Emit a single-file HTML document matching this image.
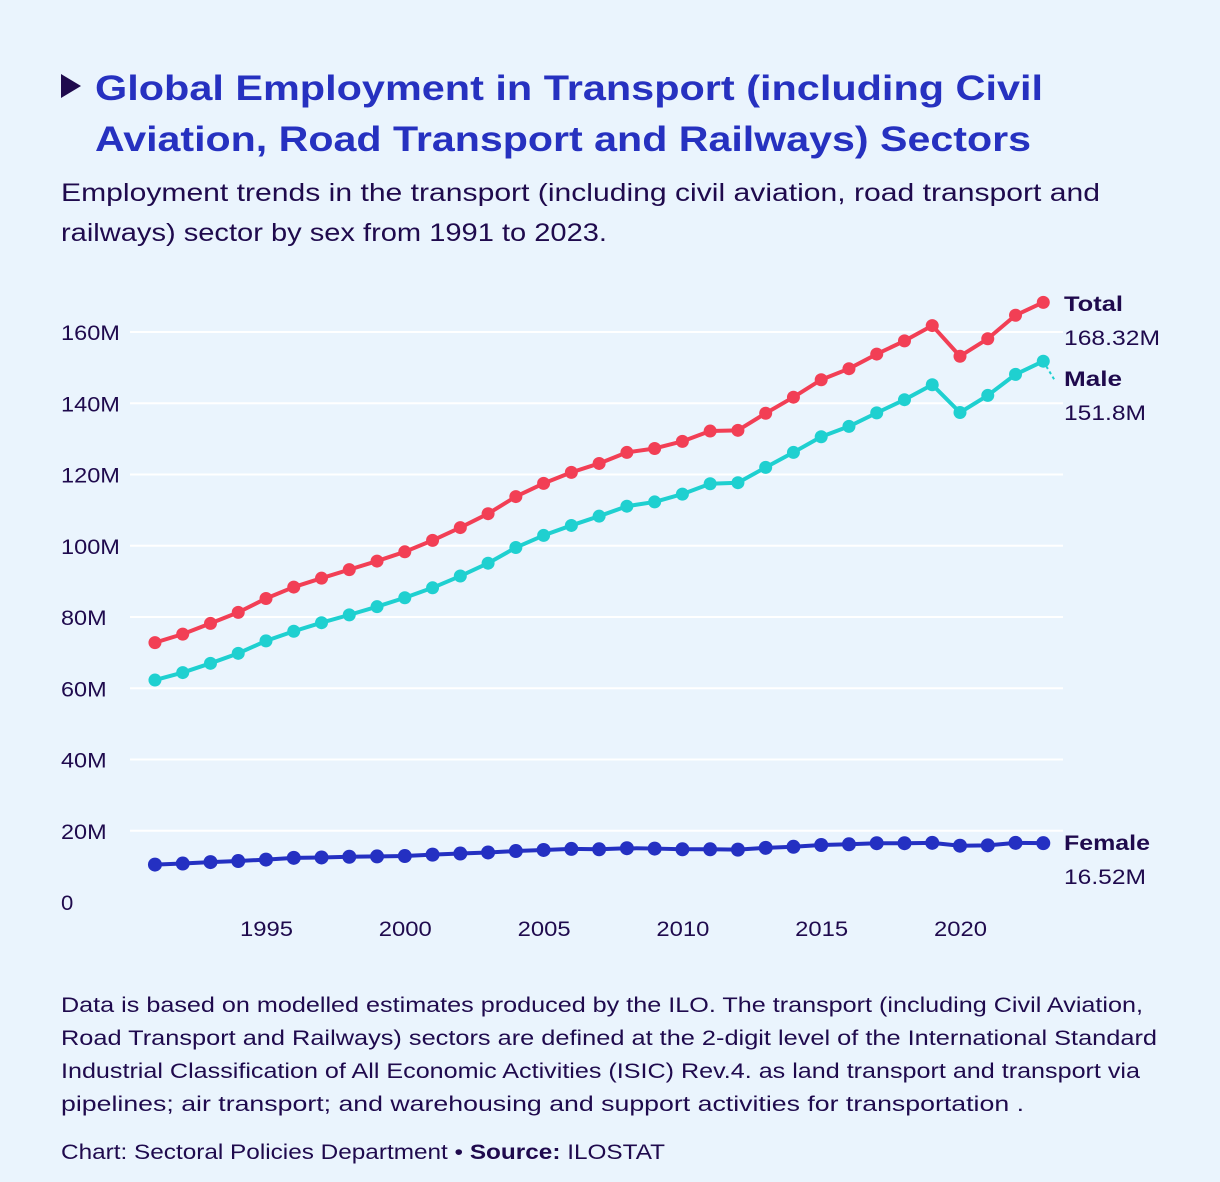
<!DOCTYPE html>
<html><head><meta charset="utf-8"><style>
html,body{margin:0;padding:0;background:#eaf4fd;}
svg{display:block;font-family:"Liberation Sans",sans-serif;}
</style></head><body>
<svg id="chart" width="1220" height="1182" viewBox="0 0 1220 1182">
<rect width="1220" height="1182" fill="#eaf4fd"/>
<polygon points="61,74 61,98 81,86" fill="#1f0a4d"/>
<text x="95" y="100" font-size="35" font-weight="bold" fill="#2631c0" textLength="948" lengthAdjust="spacingAndGlyphs">Global Employment in Transport (including Civil</text>
<text x="95" y="151" font-size="35" font-weight="bold" fill="#2631c0" textLength="936" lengthAdjust="spacingAndGlyphs">Aviation, Road Transport and Railways) Sectors</text>
<text x="61" y="201" font-size="25" fill="#1f0a4d" textLength="1039" lengthAdjust="spacingAndGlyphs">Employment trends in the transport (including civil aviation, road transport and</text>
<text x="61" y="241" font-size="25" fill="#1f0a4d" textLength="546" lengthAdjust="spacingAndGlyphs">railways) sector by sex from 1991 to 2023.</text>
<g id="grid"></g>
<g id="yticks"></g>
<g id="xticks"></g>
<g id="series"></g>
<g id="labels"></g>
<g font-size="21" fill="#1f0a4d">
<text x="61" y="1012" textLength="1082" lengthAdjust="spacingAndGlyphs">Data is based on modelled estimates produced by the ILO. The transport (including Civil Aviation,</text>
<text x="61" y="1045" textLength="1096" lengthAdjust="spacingAndGlyphs">Road Transport and Railways) sectors are defined at the 2-digit level of the International Standard</text>
<text x="61" y="1078" textLength="1079" lengthAdjust="spacingAndGlyphs">Industrial Classification of All Economic Activities (ISIC) Rev.4. as land transport and transport via</text>
<text x="61" y="1111" textLength="963" lengthAdjust="spacingAndGlyphs">pipelines; air transport; and warehousing and support activities for transportation .</text>
<text x="61" y="1159" textLength="604" lengthAdjust="spacingAndGlyphs">Chart: Sectoral Policies Department • <tspan font-weight="bold">Source:</tspan> ILOSTAT</text>
</g>
</svg>
<script>
const years = Array.from({length:33},(_,i)=>1991+i);
const totalValues = [72.8,75.2,78.2,81.3,85.2,88.4,90.9,93.3,95.7,98.3,101.5,105.1,109.0,113.8,117.5,120.6,123.1,126.2,127.3,129.3,132.2,132.4,137.2,141.7,146.6,149.7,153.8,157.5,161.8,153.2,158.1,164.7,168.32];
const maleValues = [62.3,64.4,67.0,69.8,73.3,76.0,78.4,80.6,82.9,85.4,88.2,91.5,95.1,99.5,102.9,105.7,108.3,111.1,112.3,114.5,117.4,117.7,122.0,126.2,130.6,133.5,137.3,141.0,145.2,137.4,142.2,148.1,151.8];
const femaleValues = [10.5,10.8,11.2,11.5,11.9,12.4,12.5,12.7,12.8,12.9,13.3,13.6,13.9,14.3,14.6,14.9,14.8,15.1,15.0,14.8,14.8,14.7,15.2,15.5,16.0,16.2,16.5,16.5,16.6,15.8,15.9,16.6,16.52];
const yTicks = [0,20,40,60,80,100,120,140,160];
const yTickLabels = ["0","20M","40M","60M","80M","100M","120M","140M","160M"];
const xTicks = [1995,2000,2005,2010,2015,2020];

const NS="http://www.w3.org/2000/svg";
const x = v => 266 + (v-1995)*(960-266)/25;
const y = v => 902 - v*(902-332)/160;
function mk(tag, attrs, parent){const e=document.createElementNS(NS,tag);for(const k in attrs)e.setAttribute(k,attrs[k]);parent.appendChild(e);return e;}
const grid=document.getElementById('grid'), yt=document.getElementById('yticks'), xt=document.getElementById('xticks'), ser=document.getElementById('series'), lab=document.getElementById('labels');
yTicks.forEach((t,i)=>{
  if(t>0){const l=mk('line',{x1:130,x2:1063,y1:y(t),y2:y(t),stroke:'#ffffff','stroke-width':2},grid);
  
  }
  const s=yTickLabels[i];
  const w=s.replace('M','').length*13.3+(s.includes('M')?19:0)-(s==='0'?1:0);
  const tx=mk('text',{x:61,y:y(t)+8,'font-size':21,fill:'#1f0a4d',textLength:w,lengthAdjust:'spacingAndGlyphs'},yt);
  tx.textContent=s;
  
  
});
xTicks.forEach(t=>{
  const tx=mk('text',{x:x(t)-26,y:936,'font-size':21,fill:'#1f0a4d',textLength:53,lengthAdjust:'spacingAndGlyphs'},xt);
  tx.textContent=t;
  
  
});
function drawSeries(vals,color,name,r){
  const g=mk('g',{},ser);
  
  
  const p=mk('polyline',{points:vals.map((v,i)=>x(years[i])+','+y(v)).join(' '),fill:'none',stroke:color,'stroke-width':4,'stroke-linejoin':'round'},g);
  
  
  vals.forEach((v,i)=>{
    const c=mk('circle',{cx:x(years[i]),cy:y(v),r:r,fill:color},g);
    
    
  });
}
drawSeries(totalValues,'#f23f55','total',6.5);
drawSeries(maleValues,'#1fd0d0','male',6.5);
drawSeries(femaleValues,'#2430c2','female',7);
const lx=x(2023), lm=y(maleValues[32]);
const dl=mk('line',{x1:lx,y1:lm,x2:lx+12,y2:lm+20,stroke:'#1fd0d0','stroke-width':2,'stroke-dasharray':'3,3'},lab);


function endLabel(name,valText,yy,key,w1,w2){
  const a=mk('text',{x:1064,y:yy,'font-size':21,'font-weight':'bold',fill:'#1f0a4d',textLength:w1,lengthAdjust:'spacingAndGlyphs'},lab);
  a.textContent=name;
  
  
  const b=mk('text',{x:1064,y:yy+34,'font-size':21,fill:'#1f0a4d',textLength:w2,lengthAdjust:'spacingAndGlyphs'},lab);
  b.textContent=valText;
  
  
}
endLabel('Total',totalValues[32]+'M',311,'total',59,96);
endLabel('Male',maleValues[32]+'M',386,'male',58,82);
endLabel('Female',femaleValues[32]+'M',850,'female',86,82);
</script>
</body></html>
